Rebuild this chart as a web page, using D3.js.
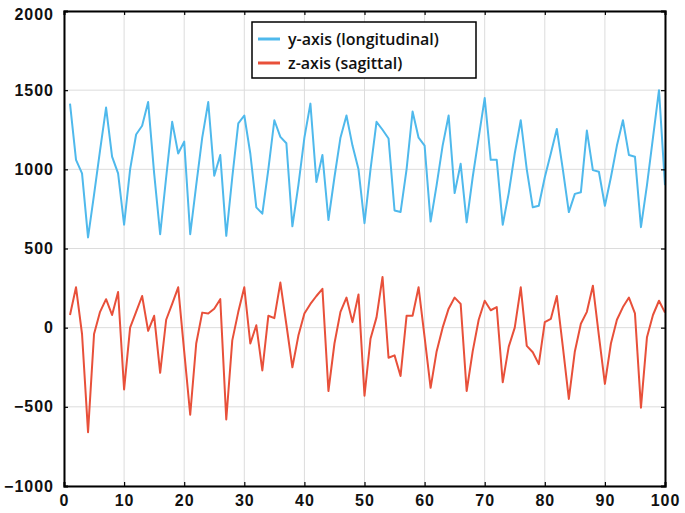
<!DOCTYPE html>
<html lang="en">
<head>
  <meta charset="UTF-8">
  <title>Acceleration y/z axes</title>
  <script src="https://d3js.org/d3.v7.min.js"></script>
  <style>
    body { margin: 0; background: #fff; }
    svg { display: block; font-family: 'Open Sans', 'Noto Sans', sans-serif; }
    .tick text { font-size: 16px; font-weight: 600; fill: #111; letter-spacing: 1px; }
    .grid line { stroke: #dcdcdc; stroke-width: 1; }
    .legend text { font-size: 16px; font-weight: 600; fill: #111; }
  </style>
</head>
<body>
  <svg width="685" height="513"></svg>
  <script>
    // samples 1..100
    let yAxisSeries = [1415, 1060, 975, 570, 840, 1120, 1390, 1080, 975, 650,
      1000, 1220, 1275, 1425, 975, 590, 950, 1300, 1100, 1175,
      590, 900, 1200, 1425, 960, 1090, 580, 950, 1290, 1340,
      1100, 760, 720, 1000, 1310, 1205, 1165, 640, 900, 1200,
      1415, 920, 1090, 680, 950, 1200, 1340, 1150, 1000, 660,
      1000, 1300, 1250, 1195, 740, 730, 1000, 1365, 1200, 1150,
      670, 900, 1150, 1340, 850, 1035, 665, 950, 1200, 1450,
      1060, 1060, 650, 850, 1100, 1310, 1000, 760, 770, 950,
      1100, 1255, 1000, 730, 845, 855, 1245, 995, 985, 770,
      950, 1150, 1310, 1090, 1080, 635, 900, 1200, 1500, 900];
    let zAxisSeries = [80, 255, -40, -660, -40, 100, 180, 80, 225, -390,
      0, 100, 200, -20, 75, -285, 50, 150, 255, -150,
      -550, -100, 95, 90, 120, 180, -580, -80, 100, 255,
      -100, 15, -270, 75, 60, 285, 20, -250, -50, 90,
      150, 200, 245, -400, -100, 100, 190, 35, 210, -430,
      -70, 65, 320, -190, -175, -305, 75, 75, 255, -60,
      -380, -150, 0, 120, 190, 150, -400, -150, 50, 170,
      110, 130, -345, -120, 0, 255, -115, -155, -230, 35,
      55, 200, -120, -450, -150, 25, 100, 265, -50, -355,
      -100, 50, 130, 190, 90, -505, -60, 80, 170, 95];
    let seriesNames = ['y-axis (longitudinal)', 'z-axis (sagittal)'];
    let seriesColors = ['#4fb9ec', '#e8503a'];
    let xTicks = [0, 10, 20, 30, 40, 50, 60, 70, 80, 90, 100];
    let yTicks = [-1000, -500, 0, 500, 1000, 1500, 2000];

    let margin = { top: 11, right: 20, bottom: 27, left: 64 };
    let width = 685, height = 513;
    let innerWidth = width - margin.left - margin.right;
    let innerHeight = height - margin.top - margin.bottom;

    let svg = d3.select('svg');
    let chart = svg.append('g')
      .attr('transform', `translate(${margin.left},${margin.top})`);

    let x = d3.scaleLinear().domain([0, 100]).range([0, innerWidth]);
    let y = d3.scaleLinear().domain([-1000, 2000]).range([innerHeight, 0]);

    // grid
    chart.append('g').attr('class', 'grid')
      .selectAll('line').data(xTicks).enter().append('line')
      .attr('x1', d => x(d)).attr('x2', d => x(d))
      .attr('y1', 0).attr('y2', innerHeight);
    chart.append('g').attr('class', 'grid')
      .selectAll('line').data(yTicks).enter().append('line')
      .attr('x1', 0).attr('x2', innerWidth)
      .attr('y1', d => y(d)).attr('y2', d => y(d));

    let line = d3.line()
      .x((d, i) => x(i + 1))
      .y(d => y(d));

    [yAxisSeries, zAxisSeries].forEach((s, k) => {
      chart.append('path')
        .datum(s)
        .attr('fill', 'none')
        .attr('stroke', seriesColors[k])
        .attr('stroke-width', 2)
        .attr('stroke-linejoin', 'round')
        .attr('d', line);
    });

    // axes, ticks point inwards
    let fmt = d3.format('d');
    chart.append('g')
      .attr('transform', `translate(0,${innerHeight})`)
      .call(d3.axisBottom(x).tickValues(xTicks).tickFormat(fmt).tickSize(-4).tickPadding(9));
    let yAxis = chart.append('g')
      .call(d3.axisLeft(y).tickValues(yTicks).tickFormat(fmt).tickSize(-4).tickPadding(10));
    // keep the top label inside the picture
    yAxis.selectAll('.tick text').filter(d => d === 2000).attr('dy', '0.5em');
    chart.append('g')
      .call(d3.axisTop(x).tickValues(xTicks).tickSize(-4).tickFormat(''));
    chart.append('g')
      .attr('transform', `translate(${innerWidth},0)`)
      .call(d3.axisRight(y).tickValues(yTicks).tickSize(-4).tickFormat(''));

    chart.selectAll('.domain').attr('stroke', '#000').attr('stroke-width', 2);
    chart.selectAll('.tick line').attr('stroke', '#000').attr('stroke-width', 1.2);

    // legend
    let legend = svg.append('g').attr('class', 'legend')
      .attr('transform', 'translate(252,22)');
    legend.append('rect')
      .attr('width', 224).attr('height', 56)
      .attr('fill', '#fff').attr('stroke', '#000').attr('stroke-width', 1.5);
    seriesNames.forEach((name, i) => {
      let row = legend.append('g').attr('transform', `translate(0,${17 + i * 24})`);
      row.append('line')
        .attr('x1', 6).attr('x2', 28).attr('y1', 0).attr('y2', 0)
        .attr('stroke', seriesColors[i]).attr('stroke-width', 3);
      row.append('text')
        .attr('x', 36).attr('y', 0).attr('dy', '0.35em')
        .text(name);
    });
  </script>
</body>
</html>
